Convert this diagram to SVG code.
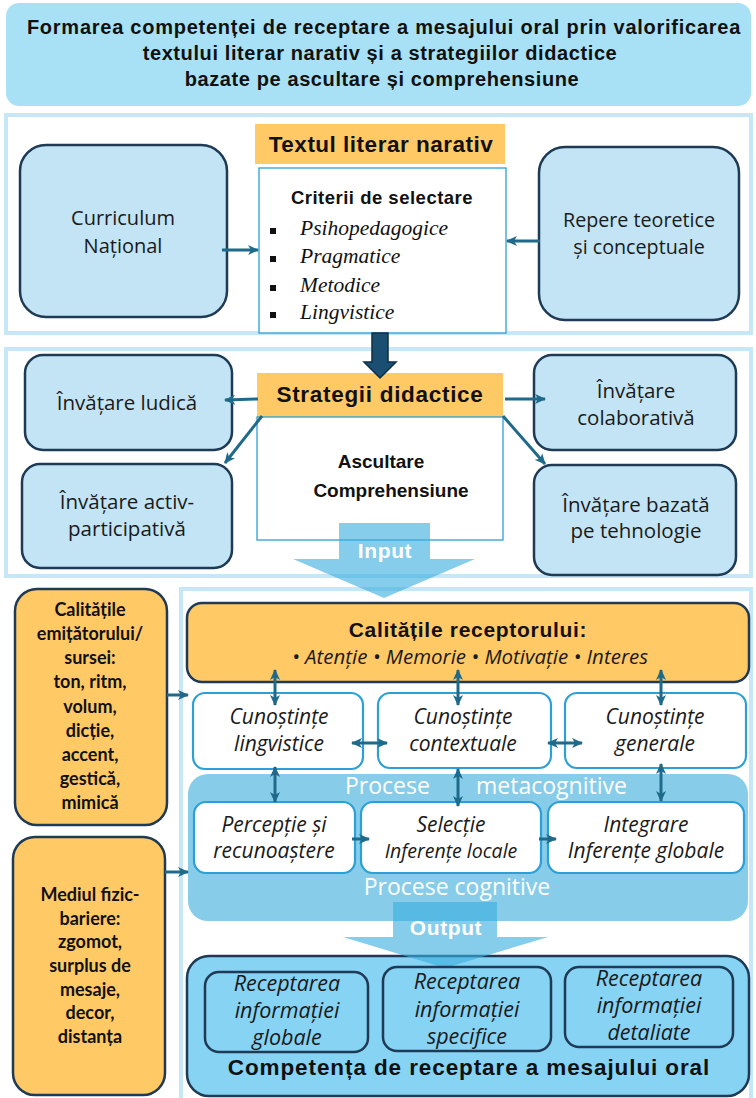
<svg xmlns="http://www.w3.org/2000/svg" width="756" height="1098" viewBox="0 0 756 1098">
<defs>
<style>
.frame{fill:#fff;stroke:#C8E7F6;stroke-width:4}
.lb{fill:#C2E4F4;stroke:#1E3A54;stroke-width:2.5}
.or{fill:#FFC966}
.ork{fill:#FFC966;stroke:#1E3A54;stroke-width:2.5}
.wb{fill:#fff;stroke:#2AA0D6;stroke-width:1.3}
.kb{fill:#fff;stroke:#2AA0D6;stroke-width:2.2}
.cb{fill:#86D3F4;stroke:#1E3A54;stroke-width:2.5}
.conn{stroke:#1F6A8A;stroke-width:3;fill:none}
.hb{font-family:"Liberation Sans",Arial,sans-serif;font-weight:bold;fill:#111;text-anchor:middle}
.rg{font-family:"Open Sans","Liberation Sans",sans-serif;fill:#1a1a1a;text-anchor:middle}
.it{font-family:"Open Sans","Liberation Sans",sans-serif;font-style:italic;fill:#1a1a1a;text-anchor:middle}
.cal{font-family:Lato,"Liberation Sans",sans-serif;font-weight:bold;fill:#111;text-anchor:middle;font-size:18px}
.ser{font-family:"Liberation Serif","Times New Roman",serif;font-style:italic;fill:#111;font-size:21.5px}
.wt{font-family:"Open Sans","Liberation Sans",sans-serif;fill:#fff;font-size:23px}
.bigar{fill:#3AAEDD;opacity:0.62}
</style>
<marker id="ah" markerUnits="userSpaceOnUse" markerWidth="12" markerHeight="12" refX="10" refY="6" orient="auto-start-reverse"><path d="M0,1 L11,6 L0,11 L3,6 Z" fill="#1F6A8A"/></marker>
</defs>

<!-- Title -->
<g id="title">
<rect x="6" y="3" width="745" height="103" rx="13" fill="#A8E1F6"/>
<text class="hb" x="384" y="34" font-size="20" letter-spacing="0.75">Formarea competenței de receptare a mesajului oral prin valorificarea</text>
<text class="hb" x="380" y="60" font-size="20" letter-spacing="0.6">textului literar narativ și a strategiilor didactice</text>
<text class="hb" x="382" y="86" font-size="20" letter-spacing="0.6">bazate pe ascultare și comprehensiune</text>
</g>

<!-- Section frames -->
<g id="frames">
<rect class="frame" x="6" y="115" width="745" height="218"/>
<rect class="frame" x="6" y="349" width="745" height="227"/>
<rect class="frame" x="181" y="589" width="570" height="520"/>
</g>

<!-- Section 1 -->
<g id="curriculum">
<rect class="lb" x="20" y="145" width="207" height="172" rx="26"/>
<text class="rg" x="123" y="225" font-size="20">Curriculum</text>
<text class="rg" x="123" y="253" font-size="20">Național</text>
</g>
<g id="repere">
<rect class="lb" x="539" y="147" width="200" height="173" rx="26"/>
<text class="rg" x="639" y="227" font-size="19.7">Repere teoretice</text>
<text class="rg" x="639" y="254" font-size="19.7">și conceptuale</text>
</g>
<g id="textul">
<rect class="or" x="255" y="124" width="250" height="40"/>
<text class="hb" x="381" y="152" font-size="22.5" letter-spacing="0.5">Textul literar narativ</text>
</g>
<g id="criterii">
<rect class="wb" x="259" y="168" width="247" height="165"/>
<text class="hb" x="382" y="204" font-size="18.5" letter-spacing="0.5">Criterii de selectare</text>
<rect x="270" y="228" width="6" height="6" fill="#111"/>
<rect x="270" y="256" width="6" height="6" fill="#111"/>
<rect x="270" y="285" width="6" height="6" fill="#111"/>
<rect x="270" y="312" width="6" height="6" fill="#111"/>
<text class="ser" x="300" y="235">Psihopedagogice</text>
<text class="ser" x="300" y="263">Pragmatice</text>
<text class="ser" x="300" y="292">Metodice</text>
<text class="ser" x="300" y="319">Lingvistice</text>
</g>

<!-- Section 2 -->
<g id="ludica">
<rect class="lb" x="25" y="355" width="207" height="95" rx="18"/>
<text class="rg" x="127" y="410" font-size="20.5">Învățare ludică</text>
</g>
<g id="activ">
<rect class="lb" x="22" y="464" width="210" height="104" rx="18"/>
<text class="rg" x="127" y="509" font-size="20.5">Învățare activ-</text>
<text class="rg" x="127" y="536" font-size="20.5">participativă</text>
</g>
<g id="colab">
<rect class="lb" x="534" y="355" width="202" height="95" rx="18"/>
<text class="rg" x="636" y="398" font-size="20.5">Învățare</text>
<text class="rg" x="636" y="425" font-size="20.5">colaborativă</text>
</g>
<g id="tehno">
<rect class="lb" x="534" y="465" width="202" height="110" rx="18"/>
<text class="rg" x="636" y="512" font-size="20.5">Învățare bazată</text>
<text class="rg" x="636" y="538" font-size="20.5">pe tehnologie</text>
</g>
<g id="strategii">
<rect class="or" x="257" y="373" width="246" height="44"/>
<rect class="wb" x="257" y="417" width="246" height="123"/>
<text class="hb" x="380" y="402" font-size="22.5" letter-spacing="0.7">Strategii didactice</text>
<text class="hb" x="381" y="468" font-size="19">Ascultare</text>
<text class="hb" x="391" y="497" font-size="19">Comprehensiune</text>
</g>

<!-- Section 3 -->
<g id="emitator">
<rect class="ork" x="15" y="589" width="152" height="236" rx="22"/>
<text class="cal" x="90" y="616">Calitățile</text>
<text class="cal" x="90" y="640">emițătorului/</text>
<text class="cal" x="90" y="664">sursei:</text>
<text class="cal" x="90" y="688">ton, ritm,</text>
<text class="cal" x="90" y="713">volum,</text>
<text class="cal" x="90" y="737">dicție,</text>
<text class="cal" x="90" y="761">accent,</text>
<text class="cal" x="90" y="785">gestică,</text>
<text class="cal" x="90" y="809">mimică</text>
</g>
<g id="mediul">
<rect class="ork" x="13" y="837" width="152" height="258" rx="22"/>
<text class="cal" x="90" y="901">Mediul fizic-</text>
<text class="cal" x="90" y="925">bariere:</text>
<text class="cal" x="90" y="948">zgomot,</text>
<text class="cal" x="90" y="972">surplus de</text>
<text class="cal" x="90" y="996">mesaje,</text>
<text class="cal" x="90" y="1019">decor,</text>
<text class="cal" x="90" y="1043">distanța</text>
</g>
<g id="receptor">
<rect class="ork" x="187" y="603" width="562" height="79" rx="15"/>
<text class="hb" x="468" y="637" font-size="21" letter-spacing="0.7">Calitățile receptorului:</text>
<text class="it" x="470" y="664" font-size="20.5">• Atenție • Memorie • Motivație • Interes</text>
</g>
<g id="procese">
<rect x="188" y="774" width="560" height="147" rx="20" fill="#87CDEA"/>
<text class="wt" x="345" y="794">Procese</text>
<text class="wt" x="476" y="794">metacognitive</text>
<text class="wt" x="457" y="895" text-anchor="middle" font-size="23.5">Procese cognitive</text>
</g>
<g id="lingvistice">
<rect class="kb" x="193" y="693" width="170" height="76" rx="12"/>
<text class="it" x="279" y="724" font-size="21">Cunoștințe</text>
<text class="it" x="279" y="751" font-size="21">lingvistice</text>
</g>
<g id="contextuale">
<rect class="kb" x="378" y="693" width="173" height="75" rx="12"/>
<text class="it" x="463" y="724" font-size="21">Cunoștințe</text>
<text class="it" x="463" y="751" font-size="21">contextuale</text>
</g>
<g id="generale">
<rect class="kb" x="565" y="693" width="181" height="75" rx="12"/>
<text class="it" x="655" y="724" font-size="21">Cunoștințe</text>
<text class="it" x="655" y="751" font-size="21">generale</text>
</g>
<g id="perceptie">
<rect class="kb" x="194" y="802" width="161" height="71" rx="12"/>
<text class="it" x="274" y="832" font-size="21">Percepție și</text>
<text class="it" x="274" y="858" font-size="21">recunoaștere</text>
</g>
<g id="selectie">
<rect class="kb" x="361" y="802" width="180" height="71" rx="12"/>
<text class="it" x="451" y="832" font-size="21">Selecție</text>
<text class="it" x="451" y="858" font-size="19.5">Inferențe locale</text>
</g>
<g id="integrare">
<rect class="kb" x="548" y="802" width="196" height="71" rx="12"/>
<text class="it" x="646" y="832" font-size="21">Integrare</text>
<text class="it" x="646" y="858" font-size="21">Inferențe globale</text>
</g>
<g id="competenta">
<rect class="cb" x="187" y="956" width="562" height="140" rx="22"/>
</g>
<polygon class="bigar" points="393,902 497,902 497,937 548,937 445,968 343,937 393,937"/>
<text class="hb" x="446" y="935" font-size="21" style="fill:#fff" letter-spacing="0.6">Output</text>
<g id="globale">
<rect class="cb" x="205" y="972" width="163" height="80" rx="14"/>
<text class="it" x="287" y="991" font-size="21.5">Receptarea</text>
<text class="it" x="287" y="1018" font-size="21.5">informației</text>
<text class="it" x="287" y="1045" font-size="21.5">globale</text>
</g>
<g id="specifice">
<rect class="cb" x="383" y="967" width="168" height="84" rx="14"/>
<text class="it" x="467" y="989" font-size="21.5">Receptarea</text>
<text class="it" x="467" y="1017" font-size="21.5">informației</text>
<text class="it" x="467" y="1044" font-size="21.5">specifice</text>
</g>
<g id="detaliate">
<rect class="cb" x="565" y="967" width="168" height="80" rx="14"/>
<text class="it" x="649" y="986" font-size="21.5">Receptarea</text>
<text class="it" x="649" y="1013" font-size="21.5">informației</text>
<text class="it" x="649" y="1040" font-size="21.5">detaliate</text>
</g>
<text class="hb" x="469" y="1075" font-size="22.5" letter-spacing="0.9">Competența de receptare a mesajului oral</text>

<!-- Input arrow -->
<g id="input">
<polygon class="bigar" points="339,523 430,523 430,559 475,559 384,598 293,559 339,559"/>
<text class="hb" x="385" y="558" font-size="21" style="fill:#fff" letter-spacing="0.6">Input</text>
</g>

<!-- Connectors -->
<g id="connectors">
<polygon points="372,333 388,333 388,362 396,362 380,378 364,362 372,362" fill="#1B4F72" stroke="#0F2E44" stroke-width="1.5"/>
<line class="conn" x1="222" y1="250" x2="258" y2="250" marker-end="url(#ah)"/>
<line class="conn" x1="540" y1="241" x2="507" y2="241" marker-end="url(#ah)"/>
<line class="conn" x1="258" y1="399" x2="225" y2="400" marker-end="url(#ah)"/>
<line class="conn" x1="262" y1="416" x2="225" y2="463" marker-end="url(#ah)"/>
<line class="conn" x1="505" y1="399" x2="545" y2="399" marker-end="url(#ah)"/>
<line class="conn" x1="503" y1="416" x2="545" y2="464" marker-end="url(#ah)"/>
<line class="conn" x1="167" y1="695" x2="188" y2="695" marker-end="url(#ah)"/>
<line class="conn" x1="165" y1="872" x2="188" y2="872" marker-end="url(#ah)"/>
<line class="conn" stroke-width="2.5" x1="275" y1="670" x2="275" y2="705" marker-start="url(#ah)" marker-end="url(#ah)"/>
<line class="conn" stroke-width="2.5" x1="458" y1="670" x2="458" y2="705" marker-start="url(#ah)" marker-end="url(#ah)"/>
<line class="conn" stroke-width="2.5" x1="661" y1="670" x2="661" y2="705" marker-start="url(#ah)" marker-end="url(#ah)"/>
<line class="conn" stroke-width="2.5" x1="352" y1="743" x2="387" y2="743" marker-start="url(#ah)" marker-end="url(#ah)"/>
<line class="conn" stroke-width="2.5" x1="548" y1="743" x2="582" y2="743" marker-start="url(#ah)" marker-end="url(#ah)"/>
<line class="conn" stroke-width="2.5" x1="275" y1="767" x2="275" y2="802" marker-start="url(#ah)" marker-end="url(#ah)"/>
<line class="conn" stroke-width="2.5" x1="458" y1="769" x2="458" y2="806" marker-start="url(#ah)" marker-end="url(#ah)"/>
<line class="conn" stroke-width="2.5" x1="661" y1="764" x2="661" y2="801" marker-start="url(#ah)" marker-end="url(#ah)"/>
<line class="conn" x1="352" y1="839" x2="369" y2="839" marker-end="url(#ah)"/>
<line class="conn" x1="539" y1="839" x2="556" y2="839" marker-end="url(#ah)"/>
</g>
</svg>
